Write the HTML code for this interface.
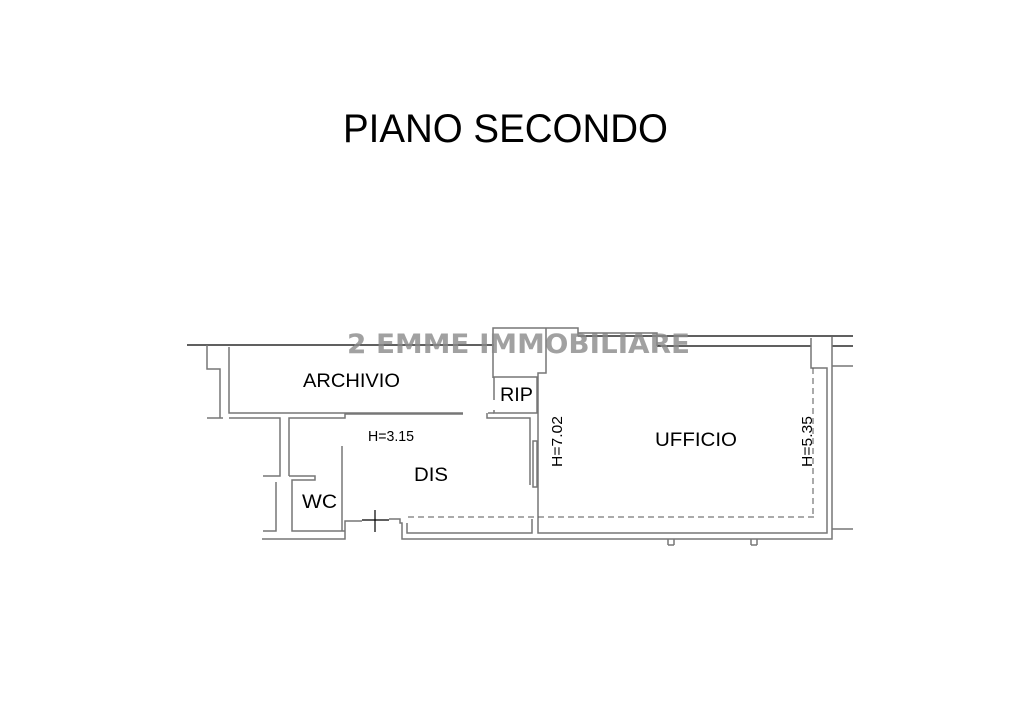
<!DOCTYPE html>
<html><head><meta charset="utf-8"><style>
html,body{margin:0;padding:0;background:#fff;width:1036px;height:708px;overflow:hidden}
svg{display:block}
text{font-family:"Liberation Sans",sans-serif}
</style></head><body>
<svg width="1036" height="708" viewBox="0 0 1036 708" xmlns="http://www.w3.org/2000/svg">
<text x="343" y="142" font-size="40" textLength="325" lengthAdjust="spacingAndGlyphs" fill="#000">PIANO SECONDO</text>
<g fill="none" stroke="#000" stroke-width="1.3">
<line x1="187" y1="345" x2="494" y2="345"/>
<line x1="578" y1="336" x2="853" y2="336"/>
<line x1="657" y1="346" x2="811" y2="346"/>
<line x1="832" y1="346" x2="853" y2="346"/>
</g>
<g fill="none" stroke="#777" stroke-width="1.5">
<polyline points="207,345 207,369 220,369 220,418"/>
<polyline points="229,347 229,413 463,413"/>
<polyline points="207,418 223,418"/>
<polyline points="229,418 280,418 280,476 263,476"/>
<polyline points="289,476 289,418 345,418 345,414 463,414"/>
<polyline points="289,476 315,476 315,480 292,480 292,531 345,531"/>
<polyline points="276,482 276,531 263,531"/>
<polyline points="262,539 345,539 345,521 362,521"/>
<polyline points="342,446 342,531"/>
<polyline points="389,519 400,519 400,523 402,523 402,539 538,539"/>
<polyline points="407,523 407,533 532,533 532,519"/>
<polyline points="538,519 538,533 827,533 827,368 811,368 811,338"/>
<polyline points="832,337 832,539 538,539"/>
<line x1="832" y1="366" x2="853" y2="366"/>
<line x1="832" y1="529" x2="853" y2="529"/>
<polyline points="493,378 493,328 578,328 578,336"/>
<polyline points="578,333 657,333 657,346"/>
<polyline points="546,328 546,373 538,373 538,519"/>
<polyline points="494,400 494,377 537,377 537,413 494,413 494,410"/>
<polyline points="487,413 487,418 530,418 530,485"/>
<rect x="533" y="441" width="4" height="46"/>
<line x1="488" y1="413" x2="494" y2="413"/>
<line x1="668" y1="539" x2="668" y2="545"/><line x1="674" y1="539" x2="674" y2="545"/><line x1="668" y1="545" x2="674" y2="545"/>
<line x1="751" y1="539" x2="751" y2="545"/><line x1="757" y1="539" x2="757" y2="545"/><line x1="751" y1="545" x2="757" y2="545"/>
</g>
<g stroke="#000" stroke-width="1.2" fill="none">
<line x1="362" y1="520" x2="389" y2="520"/>
<line x1="375" y1="510" x2="375" y2="532"/>
</g>
<g stroke="#555" stroke-width="1" stroke-dasharray="6,4" fill="none">
<line x1="408" y1="517" x2="814" y2="517"/>
<line x1="813" y1="368" x2="813" y2="517"/>
</g>
<g fill="#000">
<text x="303" y="387" font-size="19" textLength="97" lengthAdjust="spacingAndGlyphs">ARCHIVIO</text>
<text x="500" y="401" font-size="19" textLength="33" lengthAdjust="spacingAndGlyphs">RIP</text>
<text x="368" y="441" font-size="15" textLength="46" lengthAdjust="spacingAndGlyphs">H=3.15</text>
<text x="414" y="481" font-size="19" textLength="34" lengthAdjust="spacingAndGlyphs">DIS</text>
<text x="302" y="508" font-size="19" textLength="35" lengthAdjust="spacingAndGlyphs">WC</text>
<text x="655" y="446" font-size="19" textLength="82" lengthAdjust="spacingAndGlyphs">UFFICIO</text>
<text transform="translate(562,467) rotate(-90)" font-size="15" textLength="51" lengthAdjust="spacingAndGlyphs">H=7.02</text>
<text transform="translate(812,467) rotate(-90)" font-size="15" textLength="51" lengthAdjust="spacingAndGlyphs">H=5.35</text>
</g>
<text x="347" y="353" font-size="27" font-weight="bold" fill="#8a8a8a" fill-opacity="0.8" textLength="343" lengthAdjust="spacingAndGlyphs" style="font-family:'DejaVu Sans',sans-serif">2 EMME IMMOBILIARE</text>
</svg>
</body></html>
